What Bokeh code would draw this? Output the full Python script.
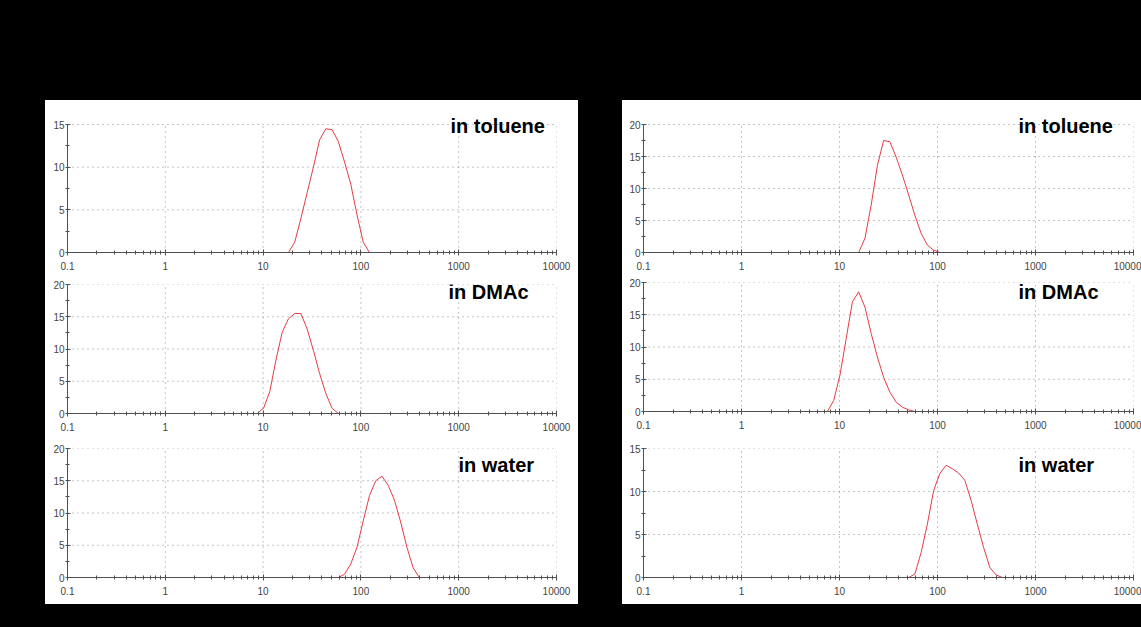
from bokeh.plotting import figure
from bokeh.layouts import row, column
from bokeh.models import Range1d, FixedTicker, CustomJSTickFormatter, Label, Spacer
from bokeh.embed import file_html
from bokeh.resources import INLINE

# Size distributions (intensity %, vs hydrodynamic diameter in nm)
toluene_a_size = [0.4, 18.17, 21.04, 24.36, 28.21, 32.67, 37.84, 43.82, 50.75, 58.77, 68.06, 78.82, 91.28, 105.7, 122.4, 10000]
toluene_a_int = [0, 0, 1.2, 4.0, 7.0, 10.0, 13.2, 14.5, 14.4, 13.0, 10.6, 8.0, 4.4, 1.2, 0, 0]

dmac_a_size = [0.4, 8.721, 10.1, 11.7, 13.54, 15.69, 18.17, 21.04, 24.36, 28.21, 32.67, 37.84, 43.82, 50.75, 58.77, 10000]
dmac_a_int = [0, 0, 0.8, 3.4, 8.3, 12.6, 14.7, 15.5, 15.5, 13.1, 9.8, 6.2, 3.1, 0.8, 0, 0]

water_a_size = [0.4, 58.77, 68.06, 78.82, 91.28, 105.7, 122.4, 141.8, 164.2, 190.1, 220.2, 255.0, 295.3, 342.0, 396.1, 10000]
water_a_int = [0, 0, 0.5, 2.1, 4.7, 8.8, 12.7, 15.0, 15.7, 14.3, 12.0, 8.6, 4.7, 1.5, 0, 0]

toluene_b_size = [0.4, 15.69, 18.17, 21.04, 24.36, 28.21, 32.67, 37.84, 43.82, 50.75, 58.77, 68.06, 78.82, 91.28, 105.7, 10000]
toluene_b_int = [0, 0, 2.2, 7.4, 13.6, 17.5, 17.3, 14.9, 12.1, 9.0, 5.8, 3.0, 1.15, 0.35, 0, 0]

dmac_b_size = [0.4, 7.531, 8.721, 10.1, 11.7, 13.54, 15.69, 18.17, 21.04, 24.36, 28.21, 32.67, 37.84, 43.82, 50.75, 58.77, 10000]
dmac_b_int = [0, 0, 1.7, 5.6, 11.3, 17.0, 18.55, 16.2, 12.1, 8.45, 5.3, 3.0, 1.45, 0.67, 0.26, 0, 0]

water_b_size = [0.4, 50.75, 58.77, 68.06, 78.82, 91.28, 105.7, 122.4, 141.8, 164.2, 190.1, 220.2, 255.0, 295.3, 342.0, 396.1, 458.7, 10000]
water_b_int = [0, 0, 0.4, 2.9, 6.2, 10.1, 12.1, 13.05, 12.65, 12.15, 11.3, 8.96, 6.2, 3.5, 1.17, 0.3, 0, 0]

solvent_labels = ["in toluene", "in DMAc", "in water"]
x_ticks = [0.1, 1, 10, 100, 1000, 10000]
x_tick_labels = ["0.1", "1", "10", "100", "1000", "10000"]

FONT = "Liberation Sans"
LINE_RED = "#e63c44"
GRID = dict(line_color="#8a8a8a", line_dash="1 4", line_width=1)
BG = {"background-color": "black"}
PANEL = {"background-color": "white"}


def dist_plot(sizes, vals, ymax, width, height, b_left, b_right, b_top, b_bottom, head=0):
    # `head` px of headroom above the top gridline so the sample label can sit there
    frame_h = height - b_top - b_bottom
    y_end = ymax * frame_h / (frame_h - head)
    p = figure(width=width, height=height, x_axis_type="log",
               x_range=Range1d(0.1, 10000), y_range=Range1d(0, y_end),
               output_backend="svg", toolbar_location=None,
               min_border_left=b_left, min_border_right=b_right,
               min_border_top=b_top, min_border_bottom=b_bottom)
    p.outline_line_color = None
    p.background_fill_color = "white"
    p.border_fill_color = "white"
    p.styles = PANEL

    minor_x = [m * t for t in x_ticks[:-1] for m in range(2, 10)]
    xt = FixedTicker(ticks=x_ticks, minor_ticks=minor_x)
    y_major = list(range(0, ymax + 1, 5))
    yt = FixedTicker(ticks=y_major, minor_ticks=[v + 2.5 for v in range(0, ymax, 5)])
    p.xaxis.ticker = xt
    p.yaxis.ticker = yt
    p.yaxis.bounds = (0, ymax)
    p.xaxis.formatter = CustomJSTickFormatter(
        args=dict(vals=x_ticks, labs=x_tick_labels),
        code="""
        for (let i = 0; i < vals.length; i++) {
            if (Math.abs(Math.log10(tick) - Math.log10(vals[i])) < 1e-6) return labs[i];
        }
        return "";
        """)

    for ax in (p.xaxis, p.yaxis):
        ax.axis_line_color = "#505050"
        ax.major_tick_line_color = "#505050"
        ax.minor_tick_line_color = "#505050"
        ax.major_label_text_font = FONT
        ax.major_label_text_font_size = "10px"
        ax.major_label_text_color = "#444444"
    p.xaxis.major_tick_in = 3
    p.xaxis.major_tick_out = 3
    p.xaxis.minor_tick_in = 2
    p.xaxis.minor_tick_out = 2
    p.xaxis.major_label_standoff = 6
    p.yaxis.major_tick_in = 3
    p.yaxis.major_tick_out = 2
    p.yaxis.minor_tick_in = 2
    p.yaxis.minor_tick_out = 2
    p.yaxis.major_label_standoff = 1

    # dotted grid, bounded to the 0..ymax box
    p.xgrid.visible = False
    p.ygrid.visible = False
    gx = x_ticks[1:]
    p.segment(x0=gx, y0=[0] * len(gx), x1=gx, y1=[ymax] * len(gx), **GRID)
    gy = y_major[1:]
    p.segment(x0=[0.1] * len(gy), y0=gy, x1=[10000] * len(gy), y1=gy, **GRID)

    p.line(sizes, vals, line_color=LINE_RED, line_width=1)
    return p


def add_label(p, text, lx, ly):
    p.add_layout(Label(x=lx, y=ly, text=text, text_font=FONT, text_font_size="20px",
                       text_font_style="bold", text_color="black",
                       text_align="left", text_baseline="alphabetic"))


a1 = dist_plot(toluene_a_size, toluene_a_int, 15, 533, 176, 22, 22, 12, 24, head=12)
a2 = dist_plot(dmac_a_size, dmac_a_int, 20, 533, 161, 22, 22, 8, 24)
a3 = dist_plot(water_a_size, water_a_int, 20, 533, 167, 22, 22, 11, 27)
b1 = dist_plot(toluene_b_size, toluene_b_int, 20, 519, 176, 21, 8, 12, 24, head=12)
b2 = dist_plot(dmac_b_size, dmac_b_int, 20, 519, 159, 21, 8, 6, 24)
b3 = dist_plot(water_b_size, water_b_int, 15, 519, 169, 21, 8, 13, 27)

add_label(a1, solvent_labels[0], 824, 14.84)
add_label(a2, solvent_labels[1], 787, 18.8)
add_label(a3, solvent_labels[2], 995, 17.44)
add_label(b1, solvent_labels[0], 671, 19.78)
add_label(b2, solvent_labels[1], 671, 18.46)
add_label(b3, solvent_labels[2], 671, 13.09)

left = column(a1, a2, a3, styles=PANEL)
right = column(b1, b2, b3, styles=PANEL)

layout = column(
    Spacer(width=1141, height=100, styles=BG),
    row(Spacer(width=45, height=504, styles=BG), left,
        Spacer(width=44, height=504, styles=BG), right, styles=BG),
    Spacer(width=1141, height=23, styles=BG),
    styles=BG,
)

open("out.html", "w").write(file_html(layout, INLINE))
